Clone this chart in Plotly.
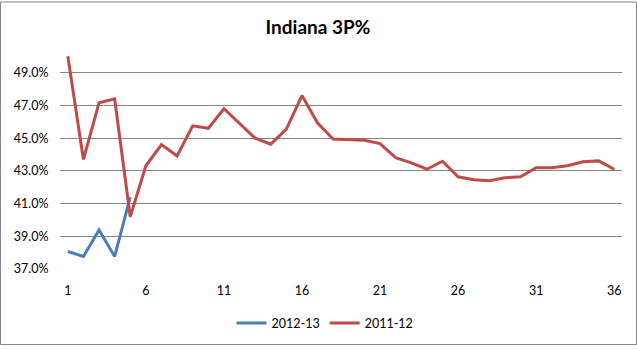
import plotly.graph_objects as go

games = list(range(1, 37))
season_2012_13 = [38.07, 37.77, 39.39, 37.77, 41.40]
season_2011_12 = [50.01, 43.70, 47.16, 47.40, 40.19, 43.31, 44.61, 43.91, 45.75, 45.60,
                  46.80, 45.90, 45.00, 44.63, 45.55, 47.60, 45.92, 44.95, 44.93, 44.87,
                  44.67, 43.81, 43.49, 43.10, 43.59, 42.64, 42.46, 42.40, 42.58, 42.64,
                  43.19, 43.19, 43.31, 43.55, 43.61, 43.10]
x_ticks = [1, 6, 11, 16, 21, 26, 31, 36]
y_ticks = [37, 39, 41, 43, 45, 47, 49]
y_tick_text = [f"{v:.1f}%" for v in y_ticks]

W, H = 637, 350
L, R, T, B = 60, 15, 40, 78

fig = go.Figure()
fig.add_trace(go.Scatter(x=games[:len(season_2012_13)], y=season_2012_13, mode="lines",
                         name="2012-13", line=dict(color="#4A7EBB", width=3)))
fig.add_trace(go.Scatter(x=games, y=season_2011_12, mode="lines",
                         name="2011-12", line=dict(color="#BE4B48", width=3)))

fig.update_layout(
    width=W, height=H,
    margin=dict(l=L, r=R, t=T, b=B),
    paper_bgcolor="white", plot_bgcolor="white",
    font=dict(family="Lato, Open Sans, sans-serif", size=12.5, color="black"),
    title=dict(text="<b>Indiana 3P%</b>", x=318 / W, xref="container", xanchor="center",
               y=1 - 27 / H, yref="container", yanchor="middle",
               font=dict(size=19, color="black")),
    showlegend=True,
    legend=dict(orientation="h", x=(325 - L) / (W - L - R), xanchor="center",
                y=(H - B - 327) / (H - T - B), yanchor="middle",
                font=dict(size=12.5), itemwidth=30, bgcolor="rgba(0,0,0,0)"),
    xaxis=dict(range=[0.5, 36.5], tickmode="array", tickvals=x_ticks,
               showgrid=False, zeroline=False, showline=False,
               ticks="outside", ticklen=10, tickcolor="rgba(0,0,0,0)"),
    yaxis=dict(range=[37, 51], tickmode="array", tickvals=y_ticks, ticktext=y_tick_text,
               showgrid=True, gridcolor="#868686", gridwidth=1, zeroline=False, showline=False,
               ticks="outside", ticklen=8, tickcolor="rgba(0,0,0,0)"),
)

# outer chart border
fig.add_shape(type="rect", xref="paper", yref="paper",
              x0=-(L - 0.5) / (W - L - R), x1=1 + (R - 0.5) / (W - L - R),
              y0=-(B - 1.5) / (H - T - B), y1=1 + (T - 1.5) / (H - T - B),
              line=dict(color="#868686", width=1), fillcolor="rgba(0,0,0,0)", layer="below")

fig.write_html("out.html")
